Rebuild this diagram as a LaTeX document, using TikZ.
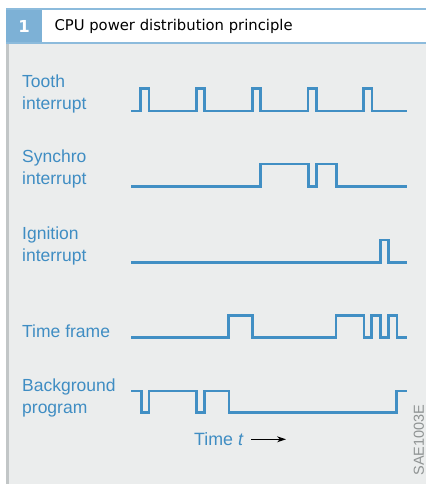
\documentclass[tikz,border=0pt]{standalone}
\usepackage{fontspec}
\setmainfont{Liberation Sans}
\newfontfamily\headfont{DejaVu Sans}
\usetikzlibrary{arrows.meta, positioning}

\definecolor{sigblue}{HTML}{418FC4}
\definecolor{lblblue}{HTML}{3F8DC3}
\definecolor{panelgray}{HTML}{EBEDED}
\definecolor{bargray}{HTML}{C2C6C7}
\definecolor{numblue}{HTML}{7DB1D6}
\definecolor{ruleblue}{HTML}{8CBBDC}
\definecolor{codegray}{HTML}{8F9393}

\begin{document}
\begin{tikzpicture}[x=1pt, y=-1pt,
    wave/.style={sigblue, line width=2.8pt},
    lbl/.style={anchor=north west, inner sep=0pt, align=left, text=lblblue,
      font=\fontsize{17.5}{22}\selectfont}]
  \useasboundingbox (0,0) rectangle (426,484);

  % Rahmen und Kopfzeile
  \fill[panelgray] (6,43) rectangle (426,484);
  \fill[bargray] (6,43) rectangle (8.5,484);
  \fill[numblue] (6,9) rectangle (42,43);
  \draw[ruleblue, line width=1.6pt] (6,9) -- (426,9);
  \draw[ruleblue, line width=1.6pt] (6,43) -- (426,43);
  \node[text=white, font=\headfont\bfseries\fontsize{16.5}{18}\selectfont] (num) at (24,26.5) {1};
  \node[anchor=west, font=\headfont\fontsize{14.8}{16}\selectfont] (title) at (51,26.5)
    {CPU power distribution principle};

  % Beschriftungen
  \node[lbl] (tooth) at (22,75) {Tooth\\interrupt};
  \node[lbl] (synchro) at (22,150) {Synchro\\interrupt};
  \node[lbl] (ignition) at (22,226.5) {Ignition\\interrupt};
  \node[lbl] (frame) at (22,325) {Time frame};
  \node[lbl] (backgr) at (22,378.5) {Background\\program};

  % Tooth interrupt
  \draw[wave] (131,111) foreach \x in {140.7,196.5,252.3,308,363.7}
    { -- (\x,111) -- (\x,88.3) -- (\x+8.3,88.3) -- (\x+8.3,111) } -- (406.7,111);

  % Synchro interrupt
  \draw[wave] (131,186.7) -- (260.7,186.7) -- (260.7,164) -- (308.3,164) -- (308.3,186.7)
    -- (316.3,186.7) -- (316.3,164) -- (336.7,164) -- (336.7,186.7) -- (406.7,186.7);

  % Ignition interrupt
  \draw[wave] (131,262.3) -- (380.3,262.3) -- (380.3,240) -- (388.7,240) -- (388.7,262.3)
    -- (406.7,262.3);

  % Time frame
  \draw[wave] (131,337.7) -- (228.3,337.7) -- (228.3,315.7) -- (252.7,315.7) -- (252.7,337.7)
    -- (336,337.7) -- (336,315.7) -- (364,315.7) -- (364,337.7)
    -- (371.7,337.7) -- (371.7,315.7) -- (380.7,315.7) -- (380.7,337.7)
    -- (388.7,337.7) -- (388.7,315.7) -- (397,315.7) -- (397,337.7) -- (406.7,337.7);

  % Background program
  \draw[wave] (131,391) -- (141.3,391) -- (141.3,412.7) -- (149,412.7) -- (149,391)
    -- (196.7,391) -- (196.7,412.7) -- (204.7,412.7) -- (204.7,391)
    -- (229,391) -- (229,412.7) -- (396.7,412.7) -- (396.7,391) -- (406.7,391);

  % Zeitachse
  \node[anchor=base west, inner sep=0pt, text=lblblue, font=\fontsize{17.8}{22}\selectfont]
    (timelbl) at (194,445) {Time \textit{t}};
  \coordinate (arrowend) at (286,439.3);
  \draw[-{Stealth[length=9pt, width=6pt]}, line width=1.1pt]
    (timelbl.east |- arrowend) ++(7.5,0) -- (arrowend);

  \node[rotate=90, inner sep=0pt, text=codegray, font=\fontsize{14.5}{16}\selectfont]
    (code) at (419,440) {SAE1003E};
\end{tikzpicture}
\end{document}
